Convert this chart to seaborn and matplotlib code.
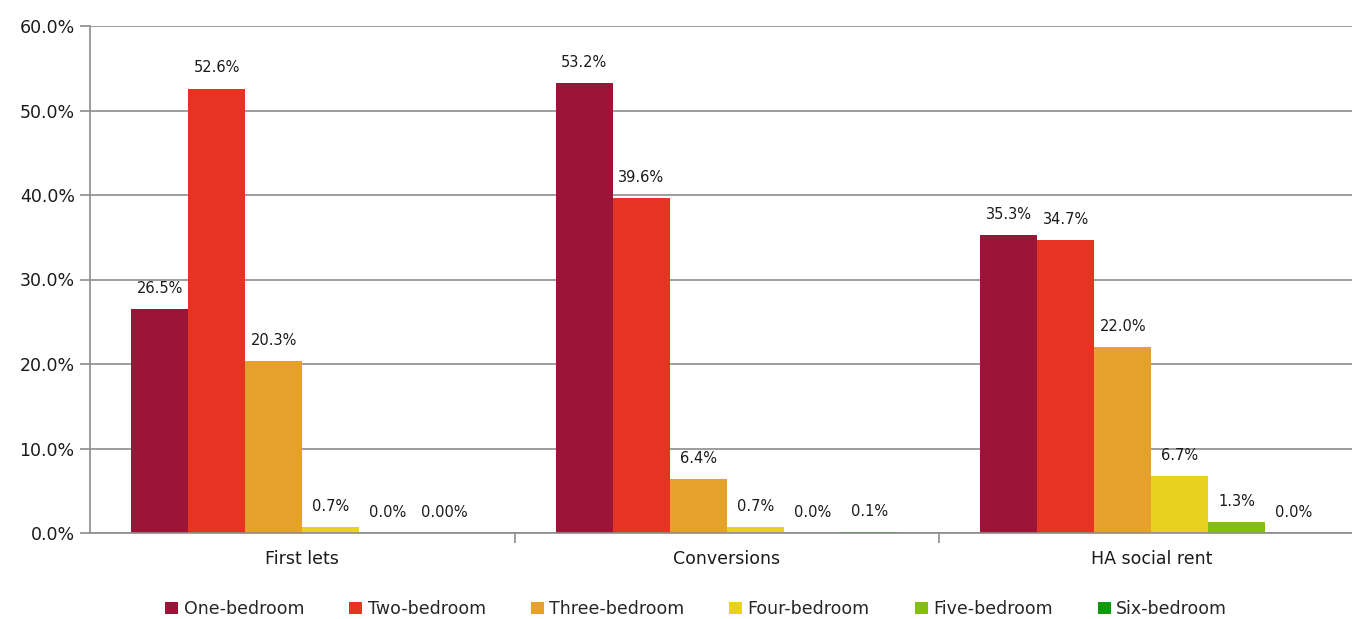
import matplotlib
matplotlib.use("Agg")
import matplotlib.pyplot as plt
import seaborn as sns
import pandas as pd
from matplotlib.ticker import FuncFormatter, FixedLocator

# Share of new homes by bedroom count, per supply route (percent)
categories = ["First lets", "Conversions", "HA social rent"]
bedrooms = ["One-bedroom", "Two-bedroom", "Three-bedroom",
            "Four-bedroom", "Five-bedroom", "Six-bedroom"]
one_bed = [26.5, 53.2, 35.3]
two_bed = [52.6, 39.6, 34.7]
three_bed = [20.3, 6.4, 22.0]
four_bed = [0.7, 0.7, 6.7]
five_bed = [0.0, 0.0, 1.3]
six_bed = [0.0, 0.1, 0.0]
# decimals shown on each bar's label (rows follow the bedroom order)
label_decimals = [[1, 1, 1], [1, 1, 1], [1, 1, 1],
                  [1, 1, 1], [1, 1, 1], [2, 1, 1]]
y_ticks = [0, 10, 20, 30, 40, 50, 60]

colors = ["#9B1538", "#E53421", "#E6A02C", "#E8D21F", "#84BE12", "#0A9A0A"]

series = [one_bed, two_bed, three_bed, four_bed, five_bed, six_bed]
rows = []
for b, vals, decs in zip(bedrooms, series, label_decimals):
    for c, v, d in zip(categories, vals, decs):
        rows.append({"category": c, "bedrooms": b, "share": v, "dec": d})
df = pd.DataFrame(rows)

sns.set_theme(style="white")
plt.rcParams["font.family"] = ["DejaVu Sans"]

fig = plt.figure(figsize=(13.52, 6.19), dpi=100)
ax = fig.add_axes([90 / 1352, 1 - 533 / 619, 1273.5 / 1352, 507 / 619])

sns.barplot(data=df, x="category", y="share", hue="bedrooms",
            order=categories, hue_order=bedrooms, palette=colors,
            width=0.805, saturation=1, edgecolor="none", linewidth=0,
            errorbar=None, ax=ax)

ax.set_xlim(-0.5, 2.5)
ax.set_ylim(0, 60)
ax.yaxis.set_major_locator(FixedLocator(y_ticks))
ax.yaxis.set_major_formatter(FuncFormatter(lambda v, _: f"{v:.1f}%"))
ax.grid(axis="y", color="#8C8C8C", linewidth=1.2)
ax.set_axisbelow(True)

for side in ["top", "right"]:
    ax.spines[side].set_visible(False)
for side in ["left", "bottom"]:
    ax.spines[side].set_color("#8C8C8C")
    ax.spines[side].set_linewidth(1.2)

ax.tick_params(axis="y", which="major", left=True, length=7, width=1.2,
               color="#8C8C8C", labelsize=12.5, labelcolor="#1a1a1a", pad=4)
ax.tick_params(axis="x", which="major", bottom=False, labelsize=12.5,
               labelcolor="#1a1a1a", pad=6)
ax.xaxis.set_minor_locator(FixedLocator([0.5, 1.5]))
ax.tick_params(axis="x", which="minor", bottom=True, length=7, width=1.2,
               color="#8C8C8C")
ax.set_xlabel("")
ax.set_ylabel("")

# value labels above each bar
for container, b in zip(ax.containers, bedrooms):
    sub = df[df["bedrooms"] == b].set_index("category").loc[categories]
    for patch, (_, r) in zip(container.patches, sub.iterrows()):
        x = patch.get_x() + patch.get_width() / 2
        ax.annotate(f"{r['share']:.{int(r['dec'])}f}%", (x, r["share"]),
                    xytext=(0, 9.5), textcoords="offset points",
                    ha="center", va="bottom", fontsize=10.5,
                    color="#1a1a1a")

ax.legend_.remove()
handles, labels = ax.get_legend_handles_labels()
fig.legend(handles, labels, loc="center", bbox_to_anchor=(0.515, 1 - 609 / 619),
           ncol=6, frameon=False, fontsize=12.5, handlelength=0.75,
           handleheight=0.75, handletextpad=0.3, columnspacing=2.6)

fig.savefig("out.png", dpi=100)
